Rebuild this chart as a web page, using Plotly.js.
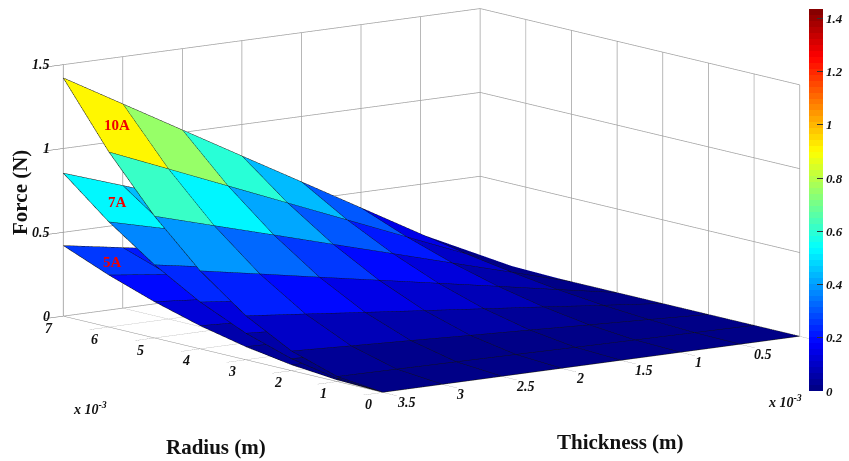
<!DOCTYPE html>
<html><head><meta charset="utf-8">
<script src="https://cdn.plot.ly/plotly-3.0.1.min.js"></script>
<style>html,body{margin:0;padding:0;background:#fff}#c{width:849px;height:461px}</style>
</head><body><div id="c"></div>
<script>
const radius=[0,1,2,3,4,5,6,7];
const thickness=[0,0.5,1,1.5,2,2.5,3,3.5];
const forceTicks=[0,0.5,1,1.5];
// force[R index][T index]
const force10A=[
[0,0,0,0,0,0,0,0],
[0,.004,.008,.012,.017,.021,.025,.029],
[0,.017,.033,.050,.066,.083,.099,.116],
[0,.037,.075,.112,.149,.186,.224,.261],
[0,.066,.133,.199,.265,.331,.398,.464],
[0,.104,.207,.311,.414,.518,.621,.725],
[0,.149,.298,.447,.596,.745,.894,1.043],
[0,.203,.406,.609,.811,1.014,1.217,1.42]];
const force7A=[
[0,0,0,0,0,0,0,0],
[0,.002,.005,.007,.010,.013,.015,.017],
[0,.010,.020,.030,.040,.050,.059,.070],
[0,.022,.045,.067,.089,.112,.134,.157],
[0,.040,.080,.119,.159,.199,.239,.278],
[0,.062,.124,.187,.248,.311,.373,.435],
[0,.089,.179,.268,.358,.447,.536,.626],
[0,.122,.244,.365,.487,.608,.730,.852]];
const force5A=[
[0,0,0,0,0,0,0,0],
[0,.001,.002,.004,.005,.006,.007,.009],
[0,.005,.010,.015,.020,.025,.029,.034],
[0,.011,.022,.033,.044,.055,.066,.077],
[0,.020,.039,.059,.078,.098,.118,.137],
[0,.031,.061,.092,.123,.153,.184,.215],
[0,.044,.088,.132,.176,.221,.265,.309],
[0,.060,.120,.180,.240,.300,.360,.420]];
const colorTicks=[0,.2,.4,.6,.8,1,1.2,1.4];
const cmax=1.435;
const serif='Liberation Serif';

function jetColor(f){
  const c=t=>Math.round(255*Math.max(0,Math.min(1,1.5-Math.abs(4*f-t))));
  return `rgb(${c(3)},${c(2)},${c(1)})`;
}
const jet=[];
for(let i=0;i<64;i++){const col=jetColor((i+.5)/64);jet.push([i/64,col],[(i+1)/64,col]);}

function meshTrace(F,show){
  const x=[],y=[],z=[],I=[],J=[],K=[],val=[],n=thickness.length;
  radius.forEach((r,a)=>thickness.forEach((t,b)=>{x.push(r);y.push(t);z.push(F[a][b]);}));
  for(let a=0;a<radius.length-1;a++)for(let b=0;b<n-1;b++){
    const p=a*n+b;
    I.push(p,p);J.push(p+1,p+n+1);K.push(p+n+1,p+n);
    val.push(F[a][b],F[a][b]);
  }
  const t={type:'mesh3d',x,y,z,i:I,j:J,k:K,intensity:val,intensitymode:'cell',colorscale:jet,cmin:0,cmax,
    flatshading:true,showscale:show,hoverinfo:'skip',
    lighting:{ambient:1,diffuse:0,specular:0,roughness:1,fresnel:0},lightposition:{x:0,y:0,z:1000}};
  if(show)t.colorbar={lenmode:'pixels',len:382,thicknessmode:'pixels',thickness:14,x:811/849,xanchor:'left',y:1-9/461,yanchor:'top',
    xpad:0,ypad:0,outlinewidth:0,tickvals:colorTicks,ticktext:colorTicks.map(String),ticks:'inside',ticklen:6,tickcolor:'#333',
    tickfont:{family:serif,size:13,weight:'bold',style:'italic',color:'#111'}};
  return t;
}
function edgeTrace(F){
  const x=[],y=[],z=[];
  radius.forEach((r,a)=>{thickness.forEach((t,b)=>{x.push(r);y.push(t);z.push(F[a][b]+.001);});x.push(null);y.push(null);z.push(null);});
  thickness.forEach((t,b)=>{radius.forEach((r,a)=>{x.push(r);y.push(t);z.push(F[a][b]+.001);});x.push(null);y.push(null);z.push(null);});
  return {type:'scatter3d',mode:'lines',x,y,z,line:{color:'#111',width:1},hoverinfo:'skip',showlegend:false};
}
const axisBase={showbackground:false,showgrid:true,gridcolor:'#a0a0a0',gridwidth:1.5,showline:true,linecolor:'#888',linewidth:1,
  ticks:'outside',ticklen:24,tickwidth:1,tickcolor:'#666',showspikes:false,zeroline:false,title:{text:''},showticklabels:false};
const ann=(text,x,y,size,color,extra)=>Object.assign({text,x:x/849,y:1-y/461,xref:'paper',yref:'paper',showarrow:false,xanchor:'center',yanchor:'middle',
  font:{family:serif,size,color}},extra||{});
const tickAnn=(x,y,z,v,xanchor,xshift,yshift)=>({x,y,z,text:`<b><i>${v}</i></b>`,showarrow:false,xanchor,yanchor:'middle',xshift,yshift,
  font:{family:serif,size:14,color:'#111'}});
const d=[-.786,.590,.179],dist=6;
const sceneAnnotations=[
  ...radius.map(r=>tickAnn(r,3.5,0,r,'center',-14,-12)),
  ...thickness.slice(1).map(t=>tickAnn(0,t,0,t,'left',12,-10)),
  ...forceTicks.map(z=>tickAnn(7,3.5,z,z,'right',-11,0))];
const layout={width:849,height:461,margin:{l:0,r:0,t:0,b:0},paper_bgcolor:'#fff',showlegend:false,
  scene:{domain:{x:[.019,1],y:[.13,1]},aspectmode:'manual',aspectratio:{x:2.655,y:2.6,z:1.275},
    camera:{projection:{type:'orthographic'},eye:{x:d[0]*dist,y:d[1]*dist,z:d[2]*dist},center:{x:0,y:0,z:0},up:{x:0,y:0,z:1}},
    xaxis:Object.assign({},axisBase,{range:[0,7],tickvals:radius}),
    yaxis:Object.assign({},axisBase,{range:[0,3.5],tickvals:thickness}),
    zaxis:Object.assign({},axisBase,{range:[0,1.5],tickvals:forceTicks}),
    annotations:sceneAnnotations},
  annotations:[
    ann('<b>Force (N)</b>',20,192,21,'#111',{textangle:-90}),
    ann('<b>Radius (m)</b>',217,447,21,'#111'),
    ann('<b>Thickness (m)</b>',622,442,21,'#111'),
    ann('<b><i>x 10<sup>-3</sup></i></b>',90,408,14,'#111'),
    ann('<b><i>x 10<sup>-3</sup></i></b>',787,401,14,'#111'),
    ann('<b>10A</b>',117,125,15,'#f00000'),
    ann('<b>7A</b>',118,202,15,'#f00000'),
    ann('<b>5A</b>',113,262,15,'#f00000')]};
const data=[meshTrace(force10A,true),meshTrace(force7A,false),meshTrace(force5A,false),edgeTrace(force10A),edgeTrace(force7A),edgeTrace(force5A)];
Plotly.newPlot('c',data,layout,{displayModeBar:false});
</script></body></html>
